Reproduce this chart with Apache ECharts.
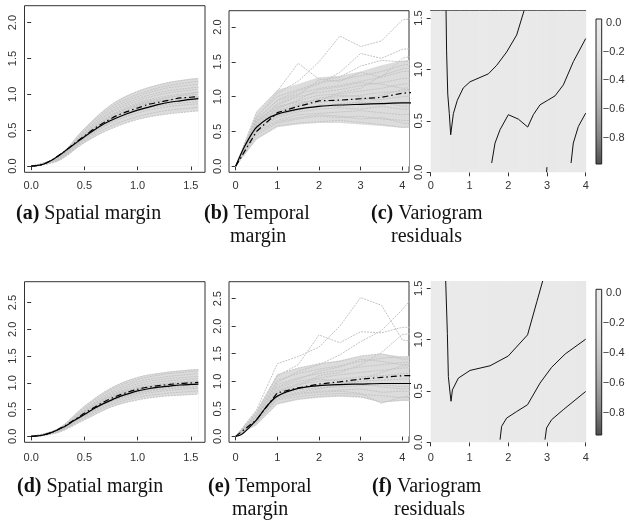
<!DOCTYPE html>
<html>
<head>
<meta charset="utf-8">
<script src="https://cdn.jsdelivr.net/npm/echarts@6/dist/echarts.min.js"></script>
<style>
html, body { margin: 0; padding: 0; background: #fff; }
#chart { width: 629px; height: 520px; }
</style>
</head>
<body>
<div id="chart"></div>
<script>
// ---- data ----

// spatial lags (panels a, d)
var spLags = [0, 0.25, 0.5, 0.75, 1.0, 1.25, 1.5, 1.5708];
var spFine = [0, 0.1, 0.2, 0.3, 0.4, 0.5, 0.6, 0.7, 0.8, 0.9, 1.0, 1.1, 1.2, 1.3, 1.4, 1.5, 1.5708];
// temporal lags (panels b, e)
var tmLags = [0, 0.5, 1, 1.5, 2, 2.5, 3, 3.5, 4, 4.5];
var tmFine = [0, 0.1, 0.2, 0.3, 0.4, 0.5, 0.75, 1, 1.5, 2, 2.5, 3, 3.5, 4, 4.5];

// (a) spatial margin, simulated variograms (grey) + model (solid) + empirical (dot-dash)
var grayA = [
    [0, 0.07, 0.33, 0.52, 0.65, 0.72, 0.76, 0.77],
    [0, 0.08, 0.35, 0.56, 0.69, 0.77, 0.81, 0.82],
    [0, 0.08, 0.37, 0.60, 0.74, 0.82, 0.86, 0.87],
    [0, 0.09, 0.38, 0.62, 0.77, 0.85, 0.89, 0.90],
    [0, 0.09, 0.40, 0.65, 0.80, 0.88, 0.92, 0.93],
    [0, 0.10, 0.41, 0.67, 0.83, 0.91, 0.95, 0.96],
    [0, 0.10, 0.42, 0.69, 0.86, 0.95, 0.99, 1.00],
    [0, 0.10, 0.43, 0.71, 0.88, 0.97, 1.02, 1.03],
    [0, 0.11, 0.45, 0.74, 0.91, 1.01, 1.06, 1.07],
    [0, 0.11, 0.46, 0.76, 0.94, 1.04, 1.09, 1.10],
    [0, 0.12, 0.48, 0.79, 0.97, 1.08, 1.13, 1.14],
    [0, 0.12, 0.50, 0.82, 1.00, 1.11, 1.17, 1.18],
    [0, 0.13, 0.52, 0.85, 1.04, 1.15, 1.21, 1.22],
    [0, 0.09, 0.39, 0.66, 0.84, 0.94, 1.01, 1.03],
    [0, 0.11, 0.44, 0.70, 0.85, 0.92, 0.96, 0.97],
    [0, 0.10, 0.40, 0.63, 0.78, 0.87, 0.93, 0.95]
];
var bandLoA = [0, 0.07, 0.32, 0.52, 0.65, 0.72, 0.76, 0.77];
var bandHiA = [0, 0.13, 0.53, 0.86, 1.05, 1.16, 1.22, 1.23];
var solidA = [0, 0.02, 0.09, 0.19, 0.30, 0.41, 0.51, 0.60, 0.67, 0.73, 0.78, 0.82, 0.86, 0.89, 0.91, 0.93, 0.94];
var dashA = [0, 0.02, 0.09, 0.19, 0.31, 0.42, 0.53, 0.62, 0.70, 0.76, 0.81, 0.86, 0.89, 0.92, 0.95, 0.96, 0.97];

// (b) temporal margin
var grayB = [
    [0, 0.40, 0.58, 0.62, 0.64, 0.66, 0.63, 0.60, 0.56, 0.58],
    [0, 0.45, 0.62, 0.68, 0.72, 0.70, 0.72, 0.68, 0.66, 0.65],
    [0, 0.50, 0.66, 0.74, 0.76, 0.78, 0.80, 0.77, 0.74, 0.76],
    [0, 0.52, 0.70, 0.78, 0.82, 0.84, 0.82, 0.86, 0.82, 0.84],
    [0, 0.55, 0.72, 0.82, 0.86, 0.90, 0.92, 0.90, 0.92, 0.90],
    [0, 0.58, 0.76, 0.86, 0.92, 0.94, 0.98, 0.96, 1.00, 1.02],
    [0, 0.60, 0.80, 0.90, 0.96, 1.00, 1.02, 1.06, 1.08, 1.10],
    [0, 0.62, 0.84, 0.94, 1.02, 1.04, 1.08, 1.12, 1.18, 1.20],
    [0, 0.65, 0.88, 1.00, 1.06, 1.10, 1.16, 1.20, 1.26, 1.28],
    [0, 0.68, 0.94, 1.04, 1.12, 1.16, 1.22, 1.28, 1.36, 1.38],
    [0, 0.72, 1.00, 1.10, 1.20, 1.24, 1.30, 1.36, 1.45, 1.50],
    [0, 0.78, 1.08, 1.48, 1.25, 1.22, 1.35, 1.28, 1.55, 1.62],
    [0, 0.70, 1.05, 1.22, 1.50, 1.87, 1.72, 1.80, 2.10, 2.15],
    [0, 0.66, 0.95, 1.08, 1.18, 1.35, 1.62, 1.55, 1.68, 1.70],
    [0, 0.62, 0.90, 1.02, 1.24, 1.28, 1.44, 1.52, 1.50, 1.52],
    [0, 0.48, 0.64, 0.70, 0.74, 0.72, 0.68, 0.70, 0.62, 0.60],
    [0, 0.56, 0.78, 0.88, 0.98, 1.02, 1.00, 0.92, 0.86, 0.88],
    [0, 0.60, 0.82, 0.96, 1.10, 1.14, 1.20, 1.18, 1.12, 1.14],
    [0, 0.54, 0.74, 0.80, 0.88, 0.86, 0.94, 1.02, 1.10, 1.12],
    [0, 0.64, 0.86, 0.92, 0.94, 1.06, 1.12, 1.30, 1.40, 1.42]
];
var bandLoB = [0, 0.38, 0.56, 0.60, 0.62, 0.62, 0.60, 0.58, 0.55, 0.56];
var bandHiB = [0, 0.78, 1.10, 1.18, 1.28, 1.30, 1.36, 1.45, 1.52, 1.55];
var solidB = [0, 0.14, 0.27, 0.38, 0.48, 0.56, 0.68, 0.75, 0.82, 0.86, 0.88, 0.89, 0.90, 0.91, 0.91];
var dashB = [0, 0.50, 0.77, 0.86, 0.94, 0.95, 0.97, 0.99, 1.05, 1.07];

// (c) variogram residual contours (x: temporal lag, y: spatial lag)
var contC = [
    [[0.396, 1.571], [0.41, 1.18], [0.44, 0.76], [0.48, 0.57], [0.516, 0.365], [0.585, 0.57], [0.687, 0.70],
     [0.84, 0.82], [1.015, 0.88], [1.488, 0.957], [1.703, 1.04], [1.961, 1.17], [2.219, 1.335], [2.409, 1.571]],
    [[1.574, 0.09], [1.66, 0.284], [1.789, 0.414], [2.004, 0.56], [2.262, 0.517], [2.503, 0.44], [2.649, 0.56],
     [2.822, 0.656], [3.019, 0.70], [3.209, 0.743], [3.424, 0.85], [3.682, 1.076], [4.0, 1.30]],
    [[3.622, 0.09], [3.68, 0.284], [3.811, 0.446], [4.0, 0.575]],
    [[2.99, 0.0], [3.0, 0.05]]
];
// background residual level by column of temporal lag (0.25 wide)
var bgC = [-0.02, -0.03, -0.05, -0.06, -0.05, -0.04, -0.05, -0.06, -0.05, -0.04, -0.05, -0.06, -0.07, -0.06, -0.05, -0.06];

// (d) spatial margin, second model
var grayD = [
    [0, 0.07, 0.31, 0.55, 0.68, 0.75, 0.78, 0.79],
    [0, 0.08, 0.34, 0.59, 0.73, 0.80, 0.84, 0.85],
    [0, 0.08, 0.36, 0.62, 0.77, 0.85, 0.89, 0.90],
    [0, 0.09, 0.38, 0.65, 0.80, 0.88, 0.92, 0.93],
    [0, 0.09, 0.40, 0.68, 0.84, 0.92, 0.96, 0.97],
    [0, 0.10, 0.42, 0.71, 0.87, 0.95, 0.99, 1.00],
    [0, 0.10, 0.44, 0.74, 0.91, 0.99, 1.03, 1.04],
    [0, 0.11, 0.46, 0.77, 0.94, 1.03, 1.07, 1.08],
    [0, 0.12, 0.48, 0.80, 0.98, 1.07, 1.11, 1.12],
    [0, 0.12, 0.50, 0.83, 1.02, 1.11, 1.16, 1.17],
    [0, 0.13, 0.53, 0.87, 1.06, 1.16, 1.21, 1.22],
    [0, 0.14, 0.56, 0.90, 1.10, 1.19, 1.24, 1.25],
    [0, 0.09, 0.39, 0.66, 0.83, 0.93, 0.99, 1.01],
    [0, 0.11, 0.45, 0.73, 0.88, 0.95, 0.98, 0.99],
    [0, 0.10, 0.41, 0.66, 0.81, 0.90, 0.96, 0.98],
    [0, 0.12, 0.47, 0.76, 0.90, 0.97, 1.01, 1.02]
];
var bandLoD = [0, 0.07, 0.30, 0.54, 0.68, 0.75, 0.78, 0.79];
var bandHiD = [0, 0.14, 0.57, 0.91, 1.11, 1.20, 1.25, 1.26];
var solidD = [0, 0.02, 0.08, 0.17, 0.29, 0.41, 0.53, 0.63, 0.72, 0.79, 0.85, 0.89, 0.92, 0.94, 0.96, 0.97, 0.975];
var dashD = [0, 0.02, 0.08, 0.18, 0.30, 0.43, 0.55, 0.66, 0.75, 0.82, 0.88, 0.92, 0.95, 0.97, 0.99, 1.00, 1.01];

// (e) temporal margin, second model
var grayE = [
    [0, 0.22, 0.60, 0.68, 0.72, 0.74, 0.72, 0.62, 0.66, 0.64],
    [0, 0.25, 0.66, 0.72, 0.76, 0.78, 0.76, 0.74, 0.70, 0.72],
    [0, 0.27, 0.70, 0.78, 0.82, 0.84, 0.86, 0.80, 0.82, 0.80],
    [0, 0.29, 0.74, 0.84, 0.88, 0.90, 0.92, 0.94, 0.90, 0.92],
    [0, 0.31, 0.78, 0.88, 0.94, 0.98, 1.00, 1.02, 1.04, 1.06],
    [0, 0.33, 0.82, 0.94, 1.00, 1.04, 1.08, 1.10, 1.14, 1.16],
    [0, 0.35, 0.88, 1.00, 1.06, 1.12, 1.16, 1.20, 1.24, 1.26],
    [0, 0.37, 0.94, 1.06, 1.14, 1.20, 1.26, 1.30, 1.34, 1.36],
    [0, 0.40, 1.02, 1.14, 1.22, 1.28, 1.36, 1.42, 1.44, 1.46],
    [0, 0.45, 1.12, 1.24, 1.32, 1.36, 1.46, 1.50, 1.40, 1.42],
    [0, 0.48, 1.32, 1.45, 1.62, 2.00, 2.52, 2.38, 1.75, 1.70],
    [0, 0.42, 1.10, 1.30, 1.84, 1.70, 1.90, 1.88, 1.98, 1.98],
    [0, 0.38, 0.98, 1.18, 1.30, 1.48, 1.72, 1.92, 2.30, 2.75],
    [0, 0.32, 0.84, 0.96, 1.04, 1.00, 0.96, 0.90, 0.86, 0.88],
    [0, 0.30, 0.80, 0.92, 1.10, 1.16, 1.30, 1.52, 1.85, 1.88],
    [0, 0.28, 0.72, 0.80, 0.86, 0.94, 1.04, 1.16, 1.28, 1.30],
    [0, 0.36, 0.90, 1.04, 1.18, 1.26, 1.40, 1.36, 1.30, 1.32],
    [0, 0.26, 0.68, 0.76, 0.80, 0.82, 0.78, 0.60, 0.72, 0.74]
];
var bandLoE = [0, 0.20, 0.58, 0.66, 0.70, 0.72, 0.70, 0.62, 0.64, 0.64];
var bandHiE = [0, 0.46, 1.12, 1.24, 1.32, 1.38, 1.46, 1.50, 1.45, 1.46];
var solidE = [0, 0.02, 0.07, 0.14, 0.22, 0.30, 0.55, 0.73, 0.87, 0.92, 0.94, 0.95, 0.96, 0.96, 0.96];
var dashE = [0, 0.30, 0.79, 0.88, 0.95, 0.99, 1.04, 1.07, 1.10, 1.11];

// (f) residual contours
var contF = [
    [[0.387, 1.571], [0.43, 1.06], [0.456, 0.64], [0.5, 0.48], [0.525, 0.40], [0.56, 0.51], [0.714, 0.625],
     [1.015, 0.70], [1.53, 0.745], [2.0, 0.84], [2.5, 1.046], [2.74, 1.37], [2.89, 1.571]],
    [[1.79, 0.026], [1.83, 0.155], [1.96, 0.236], [2.22, 0.30], [2.50, 0.366], [2.82, 0.576], [3.12, 0.73],
     [3.47, 0.86], [4.0, 1.004]],
    [[2.95, 0.026], [2.99, 0.14], [3.12, 0.22], [3.42, 0.317], [4.0, 0.495]]
];
var bgF = [-0.02, -0.02, -0.03, -0.04, -0.04, -0.04, -0.05, -0.05, -0.05, -0.05, -0.05, -0.06, -0.06, -0.06, -0.06, -0.07];

var spTicks = [0, 0.5, 1, 1.5];
var tmTicks = [0, 1, 2, 3, 4];
var yTicksTop = [0, 0.5, 1, 1.5, 2];
var yTicksBot = [0, 0.5, 1, 1.5, 2, 2.5];
var resTicks = [0, 0.5, 1, 1.5];
var barTicks = [0, -0.2, -0.4, -0.6, -0.8];

var captions = [
    ['(a)', ' Spatial margin', '', 16, 214],
    ['(b)', ' Temporal', 'margin', 204, 214],
    ['(c)', ' Variogram', 'residuals', 371, 214],
    ['(d)', ' Spatial margin', '', 17, 487],
    ['(e)', ' Temporal', 'margin', 208, 487],
    ['(f)', ' Variogram', 'residuals', 372, 487]
];
var secondLineX = {'(b)': 230, '(c)': 391, '(e)': 232, '(f)': 394};

// ---- styles ----
var FONT = 'Liberation Sans';
var SERIF = 'Liberation Serif';
var GREY = '#c4c4c4';
var BAND = '#dcdcdc';
var greyRamp = ['#4d4d4d', '#888888', '#afafaf', '#cdcdcd', '#e3e3e3', '#ededed'];

var dom = document.getElementById('chart');
var myChart = echarts.init(dom, null, {renderer: 'canvas'});

function pairs(xs, ys) {
    return xs.map(function (x, i) { return [x, ys[i]]; });
}

function fmt(dec) {
    return function (v) { return (v < 0 ? '\u2212' : '') + Math.abs(v).toFixed(dec); };
}

function axis(g, min, max, ticks, dec, isY, margin) {
    return {
        type: 'value', gridIndex: g, min: min, max: max,
        axisLine: {show: false}, splitLine: {show: false},
        axisTick: {show: true, length: 4, customValues: ticks, lineStyle: {color: '#333', width: 1}},
        axisLabel: {
            customValues: ticks, formatter: fmt(dec), rotate: isY ? 90 : 0,
            fontFamily: FONT, fontSize: 11, color: '#333', margin: margin
        }
    };
}

// grids: a, b, c, cbarTop, d, e, f, cbarBottom
var grids = [
    {left: 24.5, top: 5.7, width: 180.5, height: 166.6, show: true, borderColor: '#333', borderWidth: 1},
    {left: 229, top: 10.7, width: 180, height: 161.6, show: true, borderColor: '#333', borderWidth: 1},
    {left: 430.7, top: 10.7, width: 155, height: 161.6},
    {left: 596, top: 19, width: 5.7, height: 145},
    {left: 24.5, top: 281.7, width: 180.5, height: 160.6, show: true, borderColor: '#333', borderWidth: 1},
    {left: 229, top: 281.7, width: 180, height: 160.6, show: true, borderColor: '#333', borderWidth: 1},
    {left: 430.7, top: 281, width: 155, height: 161.3},
    {left: 596, top: 289.3, width: 5.7, height: 145.7}
];

var xAxes = [
    axis(0, -0.0628, 1.6336, spTicks, 1, false, 8),
    axis(1, -0.16, 4.16, tmTicks, 0, false, 8),
    axis(2, 0, 4, tmTicks, 0, false, 8),
    {type: 'value', gridIndex: 3, min: 0, max: 1, show: false},
    axis(4, -0.0628, 1.6336, spTicks, 1, false, 10),
    axis(5, -0.16, 4.16, tmTicks, 0, false, 10),
    axis(6, 0, 4, tmTicks, 0, false, 10),
    {type: 'value', gridIndex: 7, min: 0, max: 1, show: false},
    // top edge line of panel (c)
    {type: 'value', gridIndex: 2, min: 0, max: 4, position: 'top',
     axisLine: {show: true, lineStyle: {color: '#333', width: 1}}, axisTick: {show: false},
     axisLabel: {show: false}, splitLine: {show: false}}
];

function barAxis(g, min, max) {
    var a = axis(g, min, max, barTicks, 1, false, 12);
    a.position = 'right';
    a.axisTick.length = 3;
    a.axisLabel.align = 'center';
    return a;
}

var yAxes = [
    axis(0, -0.086, 2.236, yTicksTop, 1, true, 6),
    axis(1, -0.086, 2.234, yTicksTop, 1, true, 6),
    axis(2, 0, 1.5708, resTicks, 1, true, 6),
    barAxis(3, -0.98, 0.026),
    axis(4, -0.111, 2.891, yTicksBot, 1, true, 6),
    axis(5, -0.108, 2.808, yTicksBot, 1, true, 6),
    axis(6, 0, 1.5708, resTicks, 1, true, 6),
    barAxis(7, -0.945, 0.027)
];

var series = [];

function marginPanel(g, lags, bandLo, bandHi, gray, fineX, solid, dashX, dash, smooth) {
    // envelope of the simulations: grey fill up to the upper edge, white back down to the lower edge
    [[bandHi, BAND], [bandLo, '#fff']].forEach(function (b) {
        series.push({
            type: 'line', xAxisIndex: g, yAxisIndex: g, data: pairs(lags, b[0]),
            smooth: smooth, symbol: 'none', silent: true, z: 1,
            lineStyle: {width: 0}, areaStyle: {color: b[1], opacity: 1}
        });
    });
    gray.forEach(function (ys) {
        series.push({
            type: 'line', xAxisIndex: g, yAxisIndex: g, data: pairs(lags, ys),
            smooth: smooth, symbol: 'none', silent: true, z: 2,
            lineStyle: {color: GREY, width: 1, type: [2, 1]}
        });
    });
    series.push({
        type: 'line', xAxisIndex: g, yAxisIndex: g, data: pairs(fineX, solid),
        smooth: 0.3, symbol: 'none', silent: true, z: 4,
        lineStyle: {color: '#000', width: 1.2}
    });
    series.push({
        type: 'line', xAxisIndex: g, yAxisIndex: g, data: pairs(dashX, dash),
        smooth: smooth ? 0.3 : false, symbol: 'none', silent: true, z: 4,
        lineStyle: {color: '#000', width: 1.2, type: [6, 3, 1.5, 3]}
    });
}

var bgIdx = [];
function residualPanel(g, bg, conts) {
    var cells = bg.map(function (v, i) { return [i * 0.25, (i + 1) * 0.25, 0, 1.5708, v]; });
    bgIdx.push(series.length);
    series.push({
        type: 'custom', xAxisIndex: g, yAxisIndex: g, data: cells, silent: true, z: 1,
        renderItem: function (params, api) {
            var p0 = api.coord([api.value(0), api.value(3)]);
            var p1 = api.coord([api.value(1), api.value(2)]);
            return {type: 'rect', shape: {x: p0[0], y: p0[1], width: p1[0] - p0[0] + 0.5, height: p1[1] - p0[1]},
                    style: {fill: api.visual('color')}};
        }
    });
    conts.forEach(function (c) {
        series.push({
            type: 'line', xAxisIndex: g, yAxisIndex: g, data: c, symbol: 'none', silent: true, z: 4,
            lineStyle: {color: '#111', width: 1}
        });
    });
}

function colorBar(g, lo, hi) {
    series.push({
        type: 'custom', xAxisIndex: g, yAxisIndex: g, data: [[0, 1, lo, hi]], silent: true, z: 3,
        renderItem: function (params, api) {
            var p0 = api.coord([api.value(0), api.value(3)]);
            var p1 = api.coord([api.value(1), api.value(2)]);
            var stops = greyRamp.slice().reverse().map(function (c, i, arr) {
                return {offset: i / (arr.length - 1), color: c};
            });
            return {type: 'rect', shape: {x: p0[0], y: p0[1], width: p1[0] - p0[0], height: p1[1] - p0[1]},
                    style: {fill: new echarts.graphic.LinearGradient(0, 0, 0, 1, stops), stroke: '#222', lineWidth: 1}};
        }
    });
}

marginPanel(0, spLags, bandLoA, bandHiA, grayA, spFine, solidA, spFine, dashA, 0.35);
marginPanel(1, tmLags, bandLoB, bandHiB, grayB, tmFine, solidB, tmLags, dashB, false);
residualPanel(2, bgC, contC);
colorBar(3, -0.98, 0.026);
marginPanel(4, spLags, bandLoD, bandHiD, grayD, spFine, solidD, spFine, dashD, 0.35);
marginPanel(5, tmLags, bandLoE, bandHiE, grayE, tmFine, solidE, tmLags, dashE, false);
residualPanel(6, bgF, contF);
colorBar(7, -0.945, 0.027);

// captions
var graphics = [];
captions.forEach(function (c) {
    graphics.push({
        type: 'text', x: c[3], y: c[4], silent: true,
        style: {
            text: '{b|' + c[0] + '}' + c[1], fill: '#111', fontFamily: SERIF, fontSize: 20, verticalAlign: 'middle',
            rich: {b: {fontWeight: 'bold', fontFamily: SERIF, fontSize: 20, fill: '#111'}}
        }
    });
    if (c[2]) {
        graphics.push({
            type: 'text', x: secondLineX[c[0]], y: c[4] + 22.6, silent: true,
            style: {text: c[2], fill: '#111', fontFamily: SERIF, fontSize: 20, verticalAlign: 'middle'}
        });
    }
});

var option = {
    backgroundColor: '#fff',
    animation: false,
    grid: grids,
    xAxis: xAxes,
    yAxis: yAxes,
    visualMap: [{
        show: false, type: 'continuous', seriesIndex: bgIdx, dimension: 4,
        min: -0.98, max: 0.026, inRange: {color: greyRamp}
    }],
    graphic: graphics,
    series: series
};

myChart.setOption(option, true);
</script>
</body>
</html>
